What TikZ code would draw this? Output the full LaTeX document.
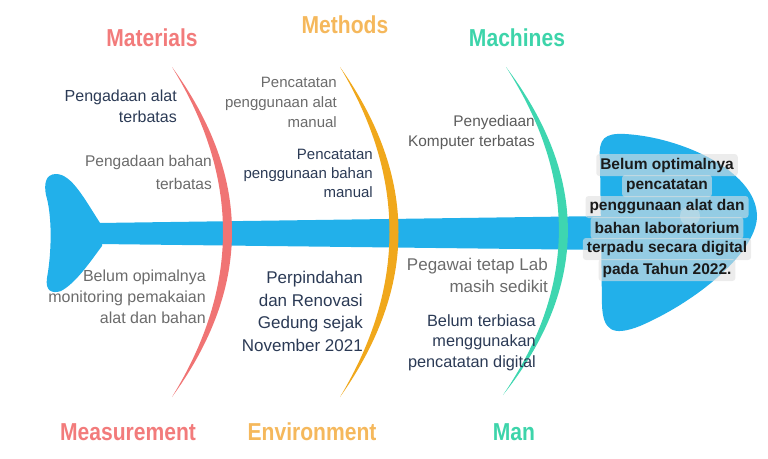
\documentclass[tikz,border=0pt]{standalone}
\usepackage{fontspec}
\setmainfont{Liberation Sans}
\newfontfamily\condfont[FakeStretch=0.86]{Liberation Sans}
\definecolor{fishblue}{HTML}{22B0EA}
\definecolor{bred}{HTML}{F07474}
\definecolor{borange}{HTML}{F0A81C}
\definecolor{bgreen}{HTML}{3ED6B0}
\definecolor{lred}{HTML}{F27B7B}
\definecolor{lorange}{HTML}{F5B85C}
\definecolor{lgreen}{HTML}{3DD4AA}
\definecolor{darktxt}{HTML}{2B3A55}
\definecolor{greytxt}{HTML}{6B6B6B}
\definecolor{headtxt}{HTML}{1A1A1A}
\tikzset{
  cat/.style={font=\condfont\fontsize{24.5}{27}\selectfont\bfseries, inner sep=0pt, anchor=center},
  cause/.style={inner sep=0pt, anchor=north east, align=right},
  hl/.style={fill=black!12, fill opacity=0.6, text opacity=1, rounded corners=3pt,
    inner xsep=4pt, inner ysep=0pt, minimum height=22pt, text=headtxt,
    font=\fontsize{15.5}{18}\selectfont\bfseries, anchor=center},
}
\newcommand{\fsz}[2]{\fontsize{#1}{#2}\selectfont}
\begin{document}
\begin{tikzpicture}[x=1pt,y=-1pt]
\useasboundingbox (0,0) rectangle (768,458);
% tail
\fill[fishblue] (102,226) .. controls (85,200) and (72,174) .. (56,174)
  .. controls (45,174) and (44,185) .. (46,195)
  .. controls (52,215) and (52,250) .. (47,278)
  .. controls (45,291) and (52,294) .. (61,291)
  .. controls (76,283) and (90,262) .. (102,246) -- cycle;
% spine
\fill[fishblue] (98,223) -- (605,216) -- (605,250) -- (98,244) -- cycle;
% head
\fill[fishblue] (600,160) .. controls (598,138) and (605,133) .. (625,134)
  .. controls (680,137) and (755,170) .. (757,215)
  .. controls (758,250) and (700,300) .. (640,326)
  .. controls (612,337) and (603,330) .. (602,305) -- cycle;
\fill[white, opacity=0.35] (690,216) circle (10);
% bones
\fill[bred] (172,67) .. controls (252,177) and (252,287) .. (172,397)
  .. controls (240,287) and (240,177) .. (172,67) -- cycle;
\fill[borange] (340,67) .. controls (418,177) and (418,287) .. (340,397)
  .. controls (406,287) and (406,177) .. (340,67) -- cycle;
\fill[bgreen] (506,67) .. controls (589,177) and (589,287) .. (503,395)
  .. controls (577,287) and (577,177) .. (506,67) -- cycle;
% category labels
\node[cat, text=lred] (materials) at (152,38) {Materials};
\node[cat, text=lorange] (methods) at (345,25) {Methods};
\node[cat, text=lgreen] (machines) at (517,38) {Machines};
\node[cat, text=lred] (measurement) at (128,432) {Measurement};
\node[cat, text=lorange] (environment) at (312,432) {Environment};
\node[cat, text=lgreen] (man) at (514,432) {Man};
% causes
\node[cause, text=darktxt, font=\fsz{16}{21}] (mat1) at (177,90) {Pengadaan alat\\terbatas};
\node[cause, text=greytxt, font=\fsz{15.5}{23}] (mat2) at (212,155) {Pengadaan bahan\\terbatas};
\node[cause, text=greytxt, font=\fsz{16}{21}] (mea1) at (206,270) {Belum opimalnya\\monitoring pemakaian\\alat dan bahan};
\node[cause, text=greytxt, font=\fsz{15}{20}] (met1) at (337,77) {Pencatatan\\penggunaan alat\\manual};
\node[cause, text=darktxt, font=\fsz{15}{19}] (met2) at (373,149) {Pencatatan\\penggunaan bahan\\manual};
\node[cause, text=darktxt, font=\fsz{17}{22.5}] (env1) at (363,271) {Perpindahan\\dan Renovasi\\Gedung sejak\\November 2021};
\node[cause, text=greytxt!85!black, font=\fsz{15.4}{20}] (mac1) at (535,115) {Penyediaan\\Komputer terbatas};
\node[cause, text=greytxt, font=\fsz{17}{22}] (man1) at (548,258) {Pegawai tetap Lab\\masih sedikit};
\node[cause, text=darktxt, font=\fsz{16.3}{20.5}] (man2) at (536,314) {Belum terbiasa\\menggunakan\\pencatatan digital};
% effect (head text)
\node[hl] (e1) at (667,165) {Belum optimalnya};
\node[hl] (e2) at (667,186) {pencatatan};
\node[hl] (e3) at (667,207) {penggunaan alat dan};
\node[hl] (e4) at (667,228) {bahan laboratorium};
\node[hl] (e5) at (667,249) {terpadu secara digital};
\node[hl] (e6) at (667,270) {pada Tahun 2022.};
\end{tikzpicture}
\end{document}
